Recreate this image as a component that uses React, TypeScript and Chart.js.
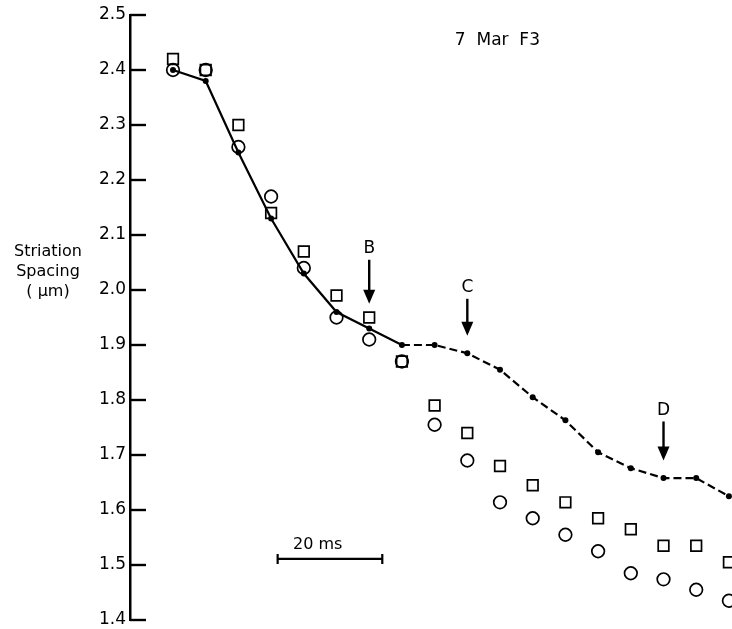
import React, { useEffect, useRef } from "react";
import { Chart, registerables } from "chart.js";

Chart.register(...registerables);

// time of each sample (ms)
const times = [0, 6.25, 12.5, 18.75, 25, 31.25, 37.5, 43.75, 50, 56.25, 62.5, 68.75, 75, 81.25, 87.5, 93.75, 100, 106.25];
// filled dots joined by the line
const lineValues = [2.40, 2.38, 2.25, 2.13, 2.03, 1.96, 1.93, 1.90, 1.90, 1.885, 1.855, 1.805, 1.763, 1.705, 1.676, 1.658, 1.658, 1.625];
// open squares
const squareValues = [2.42, 2.40, 2.30, 2.14, 2.07, 1.99, 1.95, 1.87, 1.79, 1.74, 1.68, 1.645, 1.614, 1.585, 1.565, 1.535, 1.535, 1.505];
// open circles
const circleValues = [2.40, 2.40, 2.26, 2.17, 2.04, 1.95, 1.91, 1.87, 1.755, 1.69, 1.614, 1.585, 1.555, 1.525, 1.485, 1.474, 1.455, 1.435];

const yTicks = [1.4, 1.5, 1.6, 1.7, 1.8, 1.9, 2.0, 2.1, 2.2, 2.3, 2.4, 2.5];
const axisTitle = ["Striation", "Spacing", "( \u00b5m)"];
const chartTitle = "7  Mar  F3";

// arrow markers: label, time, y value of label, y value of arrow tip
const arrowLabels = ["B", "C", "D"];
const arrowTimes = [37.5, 56.25, 93.75];
const arrowLabelY = [2.075, 2.004, 1.781];
const arrowTipY = [1.975, 1.917, 1.690];

// scale bar
const scaleBarLabel = "20 ms";
const scaleBarStart = 20;
const scaleBarEnd = 40;
const scaleBarY = 1.511;

const FONT = '"DejaVu Sans", sans-serif';

const pts = (vals: number[]) => vals.map((v, i) => ({ x: times[i], y: v }));

const decorPlugin = {
  id: "decor",
  afterDatasetsDraw(chart: any) {
    const { ctx, chartArea, scales } = chart;
    const xs = scales.x;
    const ys = scales.y;
    ctx.save();
    ctx.strokeStyle = "#000";
    ctx.fillStyle = "#000";
    // inward tick marks
    ctx.lineWidth = 2.4;
    yTicks.forEach((v) => {
      const y = Math.round(ys.getPixelForValue(v));
      ctx.beginPath();
      ctx.moveTo(chartArea.left, y);
      ctx.lineTo(chartArea.left + 16, y);
      ctx.stroke();
    });
    // axis title
    ctx.font = `16px ${FONT}`;
    ctx.textAlign = "center";
    ctx.textBaseline = "middle";
    axisTitle.forEach((t, i) => ctx.fillText(t, 48, 252 + i * 20));
    // chart title
    ctx.font = `17px ${FONT}`;
    ctx.fillText(chartTitle, xs.getPixelForValue(62), ys.getPixelForValue(2.453));
    // arrows
    arrowLabels.forEach((lab, i) => {
      const x = xs.getPixelForValue(arrowTimes[i]);
      const yl = ys.getPixelForValue(arrowLabelY[i]);
      const yt = ys.getPixelForValue(arrowTipY[i]);
      ctx.font = `17px ${FONT}`;
      ctx.fillText(lab, x, yl);
      ctx.lineWidth = 2.4;
      ctx.beginPath();
      ctx.moveTo(x, yl + 11);
      ctx.lineTo(x, yt - 10);
      ctx.stroke();
      ctx.beginPath();
      ctx.moveTo(x - 6, yt - 14);
      ctx.lineTo(x + 6, yt - 14);
      ctx.lineTo(x, yt);
      ctx.closePath();
      ctx.fill();
    });
    // scale bar
    const x1 = xs.getPixelForValue(scaleBarStart);
    const x2 = xs.getPixelForValue(scaleBarEnd);
    const yb = ys.getPixelForValue(scaleBarY);
    ctx.lineWidth = 2.2;
    ctx.beginPath();
    ctx.moveTo(x1, yb);
    ctx.lineTo(x2, yb);
    ctx.moveTo(x1, yb - 5);
    ctx.lineTo(x1, yb + 5);
    ctx.moveTo(x2, yb - 5);
    ctx.lineTo(x2, yb + 5);
    ctx.stroke();
    ctx.font = `16px ${FONT}`;
    ctx.fillText(scaleBarLabel, x1 + 40, yb - 14);
    ctx.restore();
  },
};

export default function App() {
  const ref = useRef<HTMLCanvasElement | null>(null);
  useEffect(() => {
    if (!ref.current) return;
    const chart = new Chart(ref.current, {
      type: "scatter",
      data: {
        datasets: [
          {
            data: pts(lineValues),
            showLine: true,
            borderColor: "#000",
            backgroundColor: "#000",
            borderWidth: 2.2,
            pointRadius: 3,
            pointBorderWidth: 0,
            pointStyle: "circle",
            segment: {
              borderDash: (c: any) => (c.p0DataIndex >= 7 ? [8, 4] : undefined),
            },
            clip: false,
          } as any,
          {
            data: pts(squareValues),
            showLine: false,
            borderColor: "#000",
            backgroundColor: "rgba(0,0,0,0)",
            pointStyle: "rect",
            pointRadius: 7.5,
            pointBorderWidth: 1.7,
            clip: false,
          } as any,
          {
            data: pts(circleValues),
            showLine: false,
            borderColor: "#000",
            backgroundColor: "rgba(0,0,0,0)",
            pointStyle: "circle",
            pointRadius: 6.3,
            pointBorderWidth: 1.7,
            clip: false,
          } as any,
        ],
      },
      options: {
        animation: false,
        responsive: false,
        devicePixelRatio: 1,
        layout: { autoPadding: false, padding: { top: 15, bottom: 9, left: 0, right: 0 } },
        plugins: { legend: { display: false }, tooltip: { enabled: false } },
        scales: {
          x: {
            type: "linear",
            display: false,
            min: -8.22,
            max: 106.84,
          },
          y: {
            type: "linear",
            min: 1.4,
            max: 2.5,
            afterFit: (s: any) => {
              s.width = 130;
              s.paddingTop = 0;
              s.paddingBottom = 0;
            },
            afterBuildTicks: (s: any) => {
              s.ticks = yTicks.map((v) => ({ value: v }));
            },
            grid: { display: false, drawTicks: false },
            border: { display: true, color: "#000", width: 2.5 },
            ticks: {
              color: "#000",
              padding: 4,
              font: { family: FONT, size: 17 },
              callback: (v: any) => Number(v).toFixed(1),
            },
          },
        },
      },
      plugins: [decorPlugin],
    } as any);
    return () => chart.destroy();
  }, []);
  return (
    <div style={{ position: "absolute", left: 0, top: 0, width: 732, height: 629, background: "#fff" }}>
      <canvas ref={ref} width={732} height={629} />
    </div>
  );
}
